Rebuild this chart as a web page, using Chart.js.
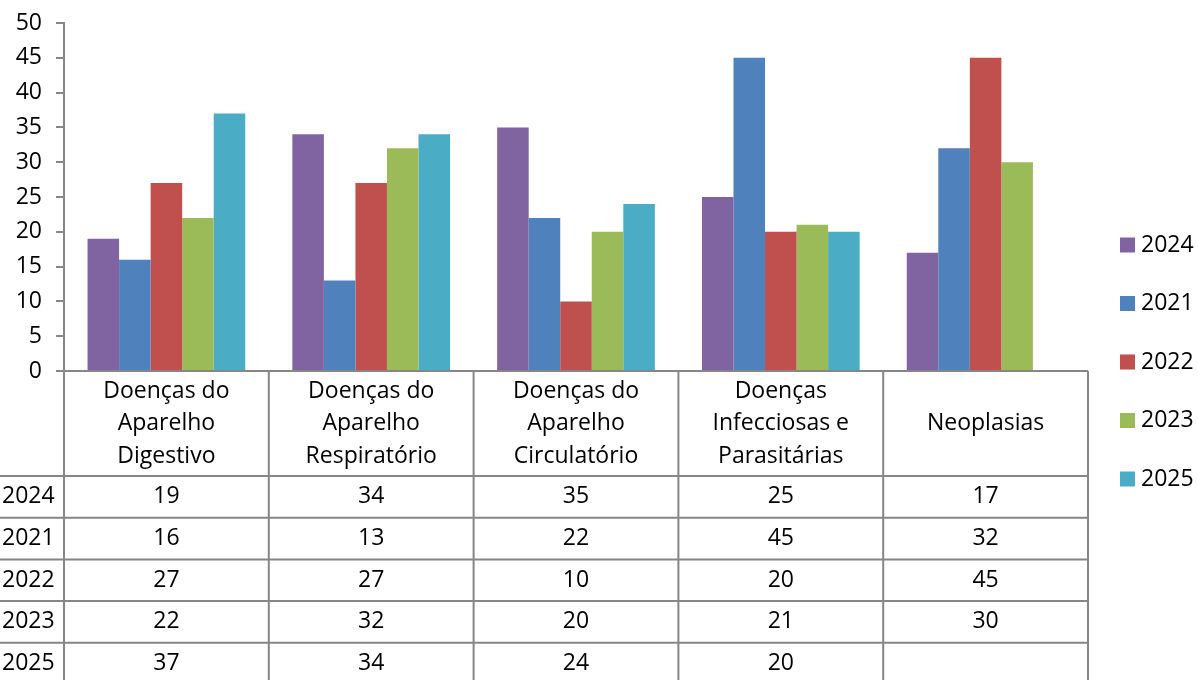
<!DOCTYPE html>
<html>
<head>
<meta charset="utf-8">
<script src="https://cdn.jsdelivr.net/npm/chart.js@4/dist/chart.umd.min.js"></script>
<style>
  html, body { margin: 0; padding: 0; background: #fff; }
  #wrap { width: 1198px; height: 680px; }
</style>
</head>
<body>
<div id="wrap"><canvas id="chart" width="1198" height="680"></canvas></div>
<script>
// categorias (linhas do cabeçalho da tabela)
const categories = [
    ['Doenças do', 'Aparelho', 'Digestivo'],
    ['Doenças do', 'Aparelho', 'Respiratório'],
    ['Doenças do', 'Aparelho', 'Circulatório'],
    ['Doenças', 'Infecciosas e', 'Parasitárias'],
    ['Neoplasias']
];
const seriesNames = ['2024', '2021', '2022', '2023', '2025'];
const values2024 = [19, 34, 35, 25, 17];
const values2021 = [16, 13, 22, 45, 32];
const values2022 = [27, 27, 10, 20, 45];
const values2023 = [22, 32, 20, 21, 30];
const values2025 = [37, 34, 24, 20, null];
const yMin = 0;
const yMax = 50;
const yStep = 5;

const colors = ['#8064A2', '#4F81BD', '#C0504D', '#9BBB59', '#4BACC6'];
const FONT = '"Open Sans", "Liberation Sans", sans-serif';
const FONT_SIZE = 23;
const LINE = '#868686';

// tabela de dados + legenda desenhadas abaixo/ao lado do gráfico
const dataTable = {
    id: 'dataTable',
    afterDraw(chart) {
        const ctx = chart.ctx;
        const x = chart.scales.x;
        const top = chart.chartArea.bottom;
        const n = chart.data.labels.length;
        const colW = (x.right - x.left) / n;
        const headH = 105;
        const rowH = 41.7;
        const sets = chart.data.datasets;

        ctx.save();
        ctx.strokeStyle = LINE;
        ctx.lineWidth = 2;
        ctx.beginPath();
        ctx.moveTo(x.left, top);
        ctx.lineTo(x.right, top);
        for (let r = 0; r <= sets.length; r++) {
            const y = top + headH + r * rowH;
            ctx.moveTo(0, y);
            ctx.lineTo(x.right, y);
        }
        for (let i = 0; i <= n; i++) {
            const xx = x.left + i * colW;
            ctx.moveTo(xx, top);
            ctx.lineTo(xx, top + headH + sets.length * rowH);
        }
        ctx.stroke();

        ctx.fillStyle = '#000';
        ctx.font = FONT_SIZE + 'px ' + FONT;
        ctx.textBaseline = 'middle';
        ctx.textAlign = 'center';
        for (let i = 0; i < n; i++) {
            const cx = x.getPixelForValue(i);
            const lines = chart.data.labels[i];
            lines.forEach((t, j) => {
                const y = top + headH / 2 + (j - (lines.length - 1) / 2) * 32.5;
                ctx.fillText(t, cx, y);
            });
            sets.forEach((ds, r) => {
                const v = ds.data[i];
                if (v !== null && v !== undefined) {
                    ctx.fillText(String(v), cx, top + headH + (r + 0.5) * rowH);
                }
            });
        }
        ctx.textAlign = 'left';
        sets.forEach((ds, r) => {
            ctx.fillText(ds.label, 2, top + headH + (r + 0.5) * rowH);
        });

        // legenda
        sets.forEach((ds, r) => {
            const y = 245 + r * 58.5;
            ctx.fillStyle = ds.backgroundColor;
            ctx.fillRect(1120, y - 7.5, 15, 15);
            ctx.fillStyle = '#000';
            ctx.fillText(ds.label, 1141, y);
        });
        ctx.restore();
    }
};

const seriesValues = [values2024, values2021, values2022, values2023, values2025];

new Chart(document.getElementById('chart'), {
    type: 'bar',
    data: {
        labels: categories,
        datasets: seriesNames.map((name, i) => ({
            label: name,
            data: seriesValues[i],
            backgroundColor: colors[i],
            borderWidth: 0,
            categoryPercentage: 0.77,
            barPercentage: 1.0,
        }))
    },
    options: {
        responsive: false,
        animation: false,
        layout: {
            padding: { top: 23, right: 110, left: 0, bottom: 0 }
        },
        scales: {
            x: {
                ticks: { display: false },
                grid: { display: false },
                border: { display: false },
                afterFit: (s) => { s.height = 309; },
            },
            y: {
                min: yMin,
                max: yMax,
                ticks: {
                    stepSize: yStep,
                    color: '#000',
                    padding: 14,
                    font: { family: FONT, size: FONT_SIZE },
                },
                grid: {
                    drawOnChartArea: false,
                    drawTicks: true,
                    tickLength: 8,
                    color: LINE,
                    lineWidth: 2,
                },
                border: { display: true, color: LINE, width: 2 },
                afterFit: (s) => {
                    s.width = 64;
                    s.paddingTop = 0;
                    s.paddingBottom = 0;
                },
            }
        },
        plugins: {
            legend: { display: false },
            tooltip: { enabled: false },
        },
    },
    plugins: [dataTable],
});
</script>
</body>
</html>
